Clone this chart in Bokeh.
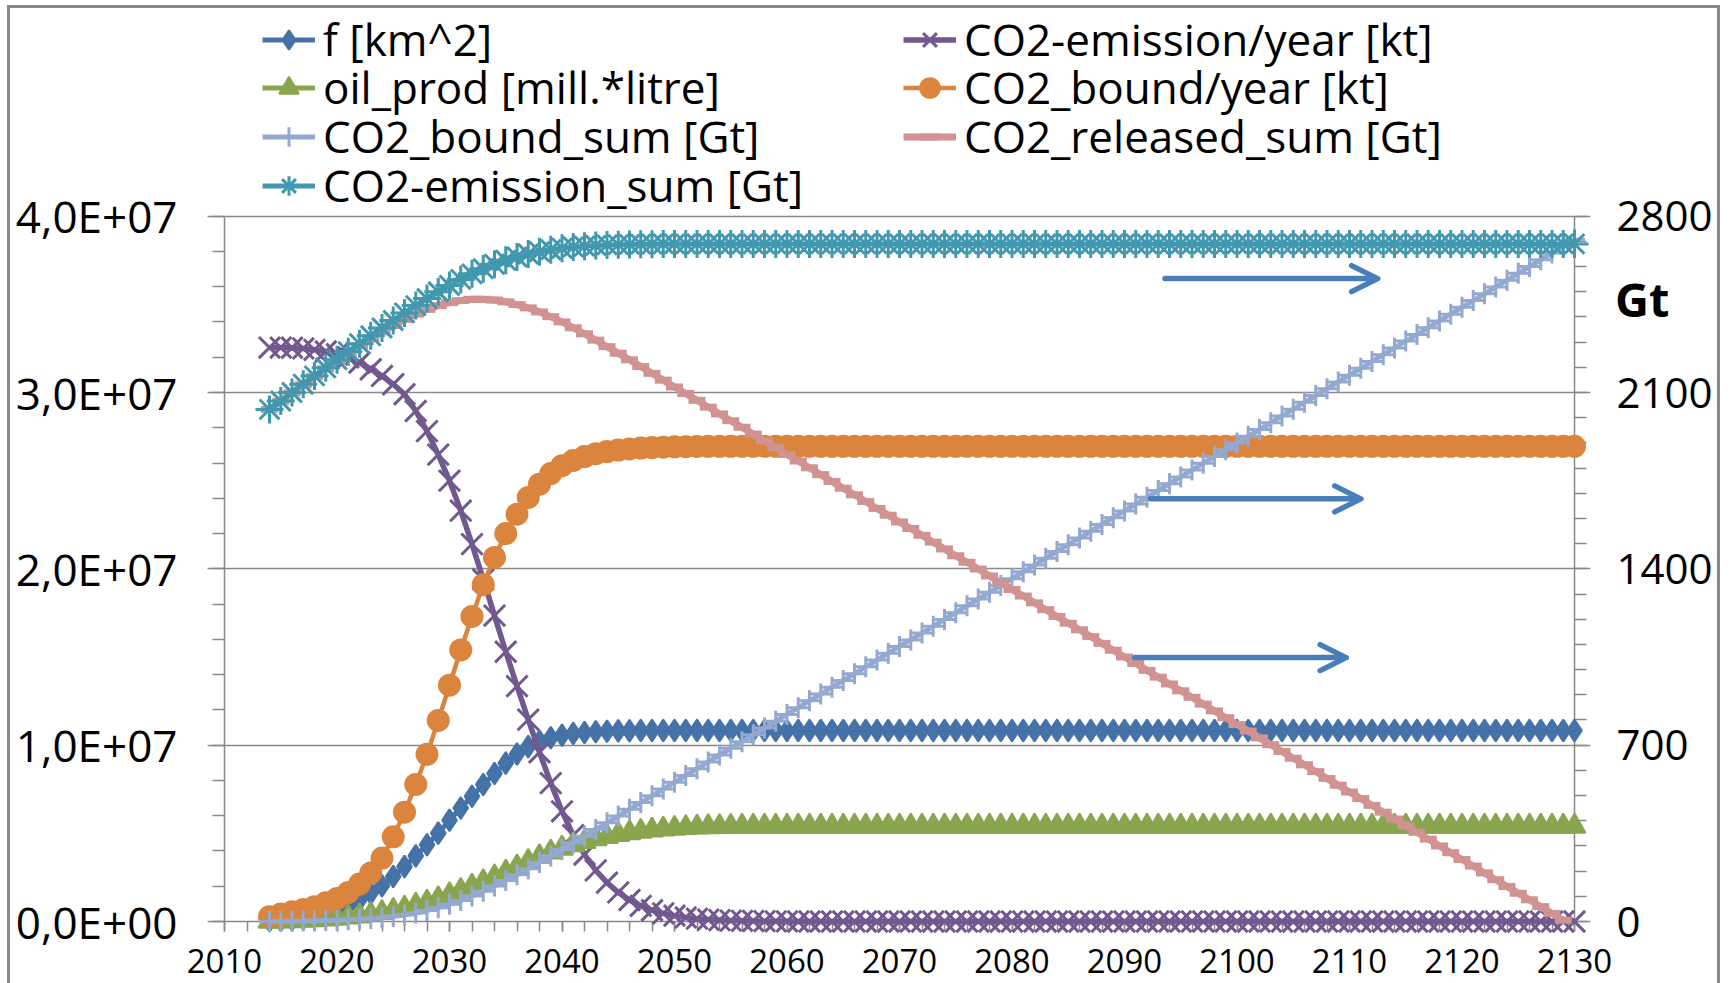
from bokeh.plotting import figure
from bokeh.models import (Range1d, LinearAxis, SingleIntervalTicker, CustomJSTickFormatter,
                          Legend, LegendItem, Arrow, OpenHead)
from bokeh.core.properties import value
from bokeh.embed import file_html
from bokeh.resources import INLINE

# ---- data -------------------------------------------------------------
years = list(range(2014, 2131))
released_years = list(range(2014, 2130))

# f [km^2]
f_km2 = [
    4.0e4, 8.0e4, 1.1e5, 1.7e5, 2.7e5, 4.2e5, 6.1e5, 8.7e5, 1.22e6, 1.60e6,
    2.03e6, 2.55e6, 3.11e6, 3.72e6, 4.35e6, 5.01e6, 5.74e6, 6.44e6, 7.10e6, 7.77e6,
    8.39e6, 8.98e6, 9.50e6, 9.92e6, 1.022e7, 1.042e7, 1.056e7, 1.066e7, 1.072e7, 1.076e7,
    1.079e7, 1.081e7, 1.082e7, 1.083e7, 1.083e7, 1.083e7, 1.083e7, 1.083e7, 1.083e7, 1.083e7,
    1.083e7, 1.083e7, 1.083e7, 1.083e7, 1.083e7, 1.083e7, 1.083e7, 1.083e7, 1.083e7, 1.083e7,
    1.083e7, 1.083e7, 1.083e7, 1.083e7, 1.083e7, 1.083e7, 1.083e7, 1.083e7, 1.083e7, 1.083e7,
    1.083e7, 1.083e7, 1.083e7, 1.083e7, 1.083e7, 1.083e7, 1.083e7, 1.083e7, 1.083e7, 1.083e7,
    1.083e7, 1.083e7, 1.083e7, 1.083e7, 1.083e7, 1.083e7, 1.083e7, 1.083e7, 1.083e7, 1.083e7,
    1.083e7, 1.083e7, 1.083e7, 1.083e7, 1.083e7, 1.083e7, 1.083e7, 1.083e7, 1.083e7, 1.083e7,
    1.083e7, 1.083e7, 1.083e7, 1.083e7, 1.083e7, 1.083e7, 1.083e7, 1.083e7, 1.083e7, 1.083e7,
    1.083e7, 1.083e7, 1.083e7, 1.083e7, 1.083e7, 1.083e7, 1.083e7, 1.083e7, 1.083e7, 1.083e7,
    1.083e7, 1.083e7, 1.083e7, 1.083e7, 1.083e7, 1.083e7, 1.083e7,
]

# CO2-emission/year [kt]
co2_emission_year = [
    3.255e7, 3.255e7, 3.254e7, 3.250e7, 3.242e7, 3.233e7, 3.217e7, 3.199e7, 3.170e7, 3.132e7,
    3.094e7, 3.047e7, 2.990e7, 2.895e7, 2.781e7, 2.648e7, 2.500e7, 2.330e7, 2.140e7, 1.940e7,
    1.735e7, 1.530e7, 1.335e7, 1.145e7, 9.60e6, 7.85e6, 6.25e6, 4.90e6, 3.80e6, 2.90e6,
    2.20e6, 1.65e6, 1.22e6, 8.9e5, 6.4e5, 4.6e5, 3.3e5, 2.3e5, 1.6e5, 1.1e5,
    8.0e4, 5.0e4, 4.0e4, 3.0e4, 2.0e4, 1.0e4, 1.0e4, 0.0, 0.0, 0.0,
    0.0, 0.0, 0.0, 0.0, 0.0, 0.0, 0.0, 0.0, 0.0, 0.0,
    0.0, 0.0, 0.0, 0.0, 0.0, 0.0, 0.0, 0.0, 0.0, 0.0,
    0.0, 0.0, 0.0, 0.0, 0.0, 0.0, 0.0, 0.0, 0.0, 0.0,
    0.0, 0.0, 0.0, 0.0, 0.0, 0.0, 0.0, 0.0, 0.0, 0.0,
    0.0, 0.0, 0.0, 0.0, 0.0, 0.0, 0.0, 0.0, 0.0, 0.0,
    0.0, 0.0, 0.0, 0.0, 0.0, 0.0, 0.0, 0.0, 0.0, 0.0,
    0.0, 0.0, 0.0, 0.0, 0.0, 0.0, 0.0,
]

# oil_prod [mill.*litre]
oil_prod = [
    0.0, 2.0e4, 4.0e4, 6.0e4, 9.0e4, 1.3e5, 1.8e5, 2.4e5, 3.1e5, 4.0e5,
    5.0e5, 6.2e5, 7.6e5, 9.2e5, 1.10e6, 1.30e6, 1.52e6, 1.76e6, 2.00e6, 2.26e6,
    2.52e6, 2.80e6, 3.10e6, 3.40e6, 3.68e6, 3.93e6, 4.15e6, 4.35e6, 4.53e6, 4.68e6,
    4.81e6, 4.93e6, 5.03e6, 5.11e6, 5.18e6, 5.24e6, 5.28e6, 5.32e6, 5.35e6, 5.37e6,
    5.38e6, 5.39e6, 5.40e6, 5.40e6, 5.40e6, 5.40e6, 5.40e6, 5.40e6, 5.40e6, 5.40e6,
    5.40e6, 5.40e6, 5.40e6, 5.40e6, 5.40e6, 5.40e6, 5.40e6, 5.40e6, 5.40e6, 5.40e6,
    5.40e6, 5.40e6, 5.40e6, 5.40e6, 5.40e6, 5.40e6, 5.40e6, 5.40e6, 5.40e6, 5.40e6,
    5.40e6, 5.40e6, 5.40e6, 5.40e6, 5.40e6, 5.40e6, 5.40e6, 5.40e6, 5.40e6, 5.40e6,
    5.40e6, 5.40e6, 5.40e6, 5.40e6, 5.40e6, 5.40e6, 5.40e6, 5.40e6, 5.40e6, 5.40e6,
    5.40e6, 5.40e6, 5.40e6, 5.40e6, 5.40e6, 5.40e6, 5.40e6, 5.40e6, 5.40e6, 5.40e6,
    5.40e6, 5.40e6, 5.40e6, 5.40e6, 5.40e6, 5.40e6, 5.40e6, 5.40e6, 5.40e6, 5.40e6,
    5.40e6, 5.40e6, 5.40e6, 5.40e6, 5.40e6, 5.40e6, 5.40e6,
]

# CO2_bound/year [kt]
co2_bound_year = [
    2.7e5, 4.2e5, 5.5e5, 6.8e5, 8.4e5, 1.06e6, 1.31e6, 1.65e6, 2.12e6, 2.75e6,
    3.60e6, 4.80e6, 6.20e6, 7.77e6, 9.48e6, 1.140e7, 1.340e7, 1.540e7, 1.730e7, 1.910e7,
    2.065e7, 2.200e7, 2.310e7, 2.405e7, 2.480e7, 2.540e7, 2.585e7, 2.615e7, 2.637e7, 2.653e7,
    2.665e7, 2.674e7, 2.680e7, 2.685e7, 2.688e7, 2.690e7, 2.692e7, 2.693e7, 2.694e7, 2.695e7,
    2.695e7, 2.695e7, 2.695e7, 2.695e7, 2.695e7, 2.695e7, 2.695e7, 2.695e7, 2.695e7, 2.695e7,
    2.695e7, 2.695e7, 2.695e7, 2.695e7, 2.695e7, 2.695e7, 2.695e7, 2.695e7, 2.695e7, 2.695e7,
    2.695e7, 2.695e7, 2.695e7, 2.695e7, 2.695e7, 2.695e7, 2.695e7, 2.695e7, 2.695e7, 2.695e7,
    2.695e7, 2.695e7, 2.695e7, 2.695e7, 2.695e7, 2.695e7, 2.695e7, 2.695e7, 2.695e7, 2.695e7,
    2.695e7, 2.695e7, 2.695e7, 2.695e7, 2.695e7, 2.695e7, 2.695e7, 2.695e7, 2.695e7, 2.695e7,
    2.695e7, 2.695e7, 2.695e7, 2.695e7, 2.695e7, 2.695e7, 2.695e7, 2.695e7, 2.695e7, 2.695e7,
    2.695e7, 2.695e7, 2.695e7, 2.695e7, 2.695e7, 2.695e7, 2.695e7, 2.695e7, 2.695e7, 2.695e7,
    2.695e7, 2.695e7, 2.695e7, 2.695e7, 2.695e7, 2.695e7, 2.695e7,
]

# CO2_bound_sum [Gt]
co2_bound_sum = [
    0.3, 0.7, 1.2, 1.9, 2.8, 3.8, 5.1, 6.8, 8.9, 11.7,
    15.3, 20.1, 26.3, 34.0, 43.5, 54.9, 68.3, 83.7, 101.0, 120.1,
    140.8, 162.8, 185.9, 209.9, 234.7, 260.1, 286.0, 312.1, 338.5, 365.0,
    391.7, 418.4, 445.2, 472.0, 498.9, 525.8, 552.7, 579.7, 606.6, 633.6,
    661, 688, 714, 741, 768, 795, 822, 849, 876, 903,
    930, 957, 984, 1011, 1038, 1065, 1092, 1118, 1145, 1172,
    1199, 1226, 1253, 1280, 1307, 1334, 1361, 1388, 1415, 1442,
    1469, 1496, 1522, 1549, 1576, 1603, 1630, 1657, 1684, 1711,
    1738, 1765, 1792, 1819, 1846, 1873, 1900, 1926, 1953, 1980,
    2007, 2034, 2061, 2088, 2115, 2142, 2169, 2196, 2223, 2250,
    2277, 2304, 2330, 2357, 2384, 2411, 2438, 2465, 2492, 2519,
    2546, 2573, 2600, 2627, 2654, 2681, 2708,
]

# CO2_released_sum [Gt] (2014-2129)
co2_released_sum = [
    2033, 2065, 2099, 2131, 2163, 2194, 2225, 2255, 2285, 2313,
    2341, 2366, 2390, 2411, 2430, 2445, 2457, 2465, 2470, 2470,
    2467, 2460, 2449, 2436, 2420, 2401, 2380, 2357, 2333, 2308,
    2282, 2256, 2230, 2203, 2176, 2149, 2122, 2096, 2069, 2042,
    2015, 1988, 1962, 1935, 1908, 1881, 1854, 1828, 1801, 1774,
    1747, 1720, 1694, 1667, 1640, 1613, 1586, 1560, 1533, 1506,
    1479, 1452, 1426, 1399, 1372, 1345, 1318, 1292, 1265, 1238,
    1211, 1184, 1158, 1131, 1104, 1077, 1050, 1024, 997, 970,
    943, 916, 890, 863, 836, 809, 782, 756, 729, 702,
    675, 648, 622, 595, 568, 541, 514, 488, 461, 434,
    407, 380, 354, 327, 300, 273, 246, 220, 193, 166,
    139, 112, 86, 59, 32, 5,
]

# CO2-emission_sum [Gt]
co2_emission_sum = [
    2033, 2066, 2100, 2133, 2166, 2198, 2230, 2262, 2294, 2325,
    2356, 2386, 2416, 2445, 2473, 2500, 2525, 2549, 2571, 2591,
    2609, 2625, 2638, 2650, 2659, 2667, 2673, 2678, 2681, 2684,
    2686, 2687, 2688, 2689, 2689, 2690, 2690, 2690, 2690, 2690,
    2690, 2690, 2690, 2690, 2690, 2690, 2690, 2690, 2690, 2690,
    2690, 2690, 2690, 2690, 2690, 2690, 2690, 2690, 2690, 2690,
    2690, 2690, 2690, 2690, 2690, 2690, 2690, 2690, 2690, 2690,
    2690, 2690, 2690, 2690, 2690, 2690, 2690, 2690, 2690, 2690,
    2690, 2690, 2690, 2690, 2690, 2690, 2690, 2690, 2690, 2690,
    2690, 2690, 2690, 2690, 2690, 2690, 2690, 2690, 2690, 2690,
    2690, 2690, 2690, 2690, 2690, 2690, 2690, 2690, 2690, 2690,
    2690, 2690, 2690, 2690, 2690, 2690, 2690,
]

x_ticks_interval = 10
left_max = 4e7
right_max = 2800
left_tick_interval = 1e7
right_tick_interval = 700

FONT = "Open Sans"
GRID = "#898989"

# The plotting frame reaches up to the top of the canvas so that the legend
# (placed above the 4,0E+07 line) sits inside it; axes and grid stop at the maxima.
FRAME_PX = 910                      # frame height in px
PLOT_PX = 703                       # px between 0 and the axis maxima
top_factor = FRAME_PX / PLOT_PX

# ---- figure -----------------------------------------------------------
p = figure(
    width=1713, height=978,
    x_range=Range1d(2010, 2130), y_range=Range1d(0, left_max * top_factor),
    output_backend="svg", toolbar_location=None,
    min_border_left=214, min_border_right=149, min_border_top=0, min_border_bottom=65,
    background_fill_color="white", border_fill_color="white",
    outline_line_color=None,
    styles={
        "margin-left": "7px", "margin-top": "5px",
        "border-left": "3px solid #898989",
        "border-top": "3px solid #898989",
        "border-right": "3px solid #898989",
    },
)
p.extra_y_ranges = {"gt": Range1d(0, right_max * top_factor)}

# bottom axis
xax = p.xaxis[0]
xax.ticker = SingleIntervalTicker(interval=x_ticks_interval, num_minor_ticks=5)
xax.axis_line_color = GRID
xax.axis_line_width = 1.5
xax.major_tick_line_color = GRID
xax.minor_tick_line_color = GRID
xax.major_tick_line_width = 1.5
xax.minor_tick_line_width = 1.5
xax.major_tick_in = 0
xax.major_tick_out = 10
xax.minor_tick_in = 0
xax.minor_tick_out = 10
xax.major_label_standoff = 17
xax.major_label_text_font = FONT
xax.major_label_text_font_size = "33px"
xax.major_label_text_color = "black"

# left axis
yax = p.yaxis[0]
yax.bounds = (0, left_max)
yax.ticker = SingleIntervalTicker(interval=left_tick_interval, num_minor_ticks=5)
yax.formatter = CustomJSTickFormatter(code="""
    if (tick === 0) { return "0,0E+00"; }
    const e = Math.floor(Math.log10(Math.abs(tick)) + 1e-9);
    const m = tick / Math.pow(10, e);
    const es = (e < 0 ? "-" : "+") + String(Math.abs(e)).padStart(2, "0");
    return m.toFixed(1).replace(".", ",") + "E" + es;
""")
yax.axis_line_color = GRID
yax.axis_line_width = 1.5
yax.major_tick_line_color = GRID
yax.minor_tick_line_color = GRID
yax.major_tick_line_width = 1.5
yax.minor_tick_line_width = 1.5
yax.major_tick_in = 0
yax.major_tick_out = 17
yax.minor_tick_in = 0
yax.minor_tick_out = 12
yax.major_label_standoff = 30
yax.major_label_text_font = FONT
yax.major_label_text_font_size = "44px"
yax.major_label_text_color = "black"

# right axis (Gt)
rax = LinearAxis(
    y_range_name="gt", bounds=(0, right_max),
    ticker=SingleIntervalTicker(interval=right_tick_interval, num_minor_ticks=7),
    axis_line_color=GRID, axis_line_width=1.5,
    major_tick_line_color=GRID, minor_tick_line_color=GRID,
    major_tick_line_width=1.5, minor_tick_line_width=1.5,
    major_tick_in=0, major_tick_out=16, minor_tick_in=0, minor_tick_out=12,
    major_label_standoff=26,
    major_label_text_font=FONT, major_label_text_font_size="42px",
    major_label_text_color="black",
)
p.add_layout(rax, "right")

p.xgrid.visible = False
p.ygrid.ticker = yax.ticker
p.ygrid.bounds = (0, left_max)
p.ygrid.grid_line_color = GRID
p.ygrid.grid_line_width = 1.5


def series(x, y, color, marker, size, line_width=5, marker_line_width=2, range_name=None):
    kw = {"y_range_name": range_name} if range_name else {}
    r_line = p.line(x, y, line_color=color, line_width=line_width, level="overlay", **kw)
    r_mark = p.scatter(x, y, marker=marker, size=size, fill_color=color, line_color=color,
                       line_width=marker_line_width, level="overlay", **kw)
    return [r_line, r_mark]


r_f = series(years, f_km2, "#4572A7", "diamond", 22)
r_em = series(years, co2_emission_year, "#71588F", "x", 30, line_width=5.5, marker_line_width=3)
r_oil = series(years, oil_prod, "#89A54E", "triangle", 22)
r_bound = series(years, co2_bound_year, "#DB843D", "circle", 21, line_width=4.5)
r_bsum = series(years, co2_bound_sum, "#93A9CF", "cross", 21, line_width=5, marker_line_width=3, range_name="gt")
r_rel = series(released_years, co2_released_sum, "#D19392", "dash", 17, line_width=7, marker_line_width=7, range_name="gt")
r_esum = series(years, co2_emission_sum, "#4198AF", "asterisk", 28, line_width=5, marker_line_width=3, range_name="gt")

# legend: two columns of entries above the plot area, one Legend per entry
LEGEND_FONT_PX = 44
ROW_HALF = 25                       # half of one entry's height
ROW_PITCH = 48.6
FIRST_ROW_FROM_AXIS = 877.2         # px from the 0-line up to the first row's centre
COL_X = (38, 679)                   # px from the left axis to each column's key

legend_columns = [
    [("f [km^2]", r_f), ("oil_prod [mill.*litre]", r_oil),
     ("CO2_bound_sum [Gt]", r_bsum), ("CO2-emission_sum [Gt]", r_esum)],
    [("CO2-emission/year [kt]", r_em), ("CO2_bound/year [kt]", r_bound),
     ("CO2_released_sum [Gt]", r_rel)],
]
for col, entries in enumerate(legend_columns):
    for row, (label, rends) in enumerate(entries):
        centre = FIRST_ROW_FROM_AXIS - row * ROW_PITCH
        p.add_layout(Legend(
            items=[LegendItem(label=label, renderers=rends)],
            location=(COL_X[col], round(centre - ROW_HALF)), orientation="vertical",
            label_text_font=FONT, label_text_font_size=f"{LEGEND_FONT_PX}px",
            label_text_color="black",
            glyph_width=53, glyph_height=49, label_height=49,
            label_standoff=8, spacing=0, padding=0, margin=0,
            border_line_color=None, background_fill_alpha=0,
        ))

# pointers toward the right-hand (Gt) scale
arrow_rows = [
    (2093.6, 2112.5, 3.646e7),
    (2092.3, 2111.0, 2.397e7),
    (2090.9, 2109.7, 1.4965e7),
]
for xs, xe, yv in arrow_rows:
    p.add_layout(Arrow(
        x_start=xs, y_start=yv, x_end=xe, y_end=yv,
        line_color="#4A7EBB", line_width=5.5, line_cap="round",
        end=OpenHead(size=26, line_color="#4A7EBB", line_width=5.5, line_cap="round", line_join="round"),
        level="overlay",
    ))

# unit caption beside the right-hand scale
p.text(x=[2133.6], y=[3.53e7], text=["Gt"],
       text_font=value(FONT), text_font_size="47px", text_font_style="bold",
       text_align="left", text_baseline="middle", text_color="black",
       level="overlay")

open("out.html", "w").write(file_html(p, INLINE))
